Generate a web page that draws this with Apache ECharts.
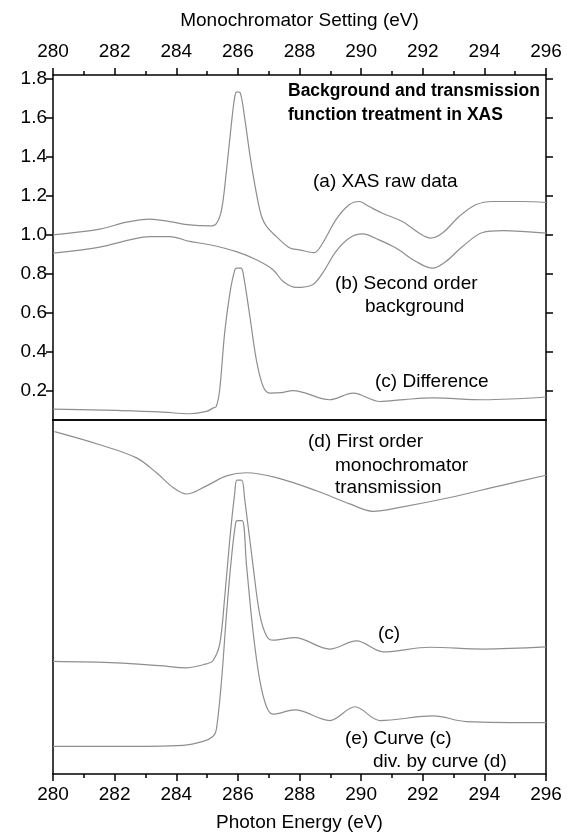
<!DOCTYPE html>
<html>
<head>
<meta charset="utf-8">
<script src="https://cdn.jsdelivr.net/npm/echarts@6/dist/echarts.min.js"></script>
<style>
  html, body { margin: 0; padding: 0; background: #fff; }
  #main { width: 567px; height: 833px; }
</style>
</head>
<body>
<div id="main"></div>
<script>
// 数据
var rawX = [280, 281.52, 282.38, 283.14, 283.79, 284.44, 285.09, 285.3, 285.47, 285.63, 285.79, 285.9, 285.97, 286.08, 286.22, 286.4, 286.6, 286.77, 286.93, 287.25, 287.69, 288.0, 288.47, 288.75, 289.18, 289.61, 289.94, 290.26, 290.69, 291.34, 291.88, 292.26, 292.64, 293.18, 293.72, 294.27, 295.24, 296];
var rawY = [1.00, 1.029, 1.065, 1.081, 1.068, 1.051, 1.046, 1.058, 1.128, 1.33, 1.57, 1.709, 1.733, 1.727, 1.60, 1.40, 1.214, 1.094, 1.043, 0.991, 0.932, 0.923, 0.909, 0.957, 1.077, 1.154, 1.171, 1.145, 1.111, 1.068, 1.009, 0.983, 1.009, 1.094, 1.154, 1.171, 1.171, 1.166];

var bgX = [280, 281.52, 282.49, 283.14, 283.79, 284.44, 285.09, 285.95, 286.6, 287.14, 287.47, 287.9, 288.42, 288.75, 289.18, 289.61, 290.05, 290.58, 291.13, 291.78, 292.32, 292.75, 293.29, 293.94, 294.59, 296];
var bgY = [0.906, 0.937, 0.974, 0.991, 0.991, 0.966, 0.949, 0.914, 0.872, 0.821, 0.761, 0.730, 0.744, 0.804, 0.914, 0.983, 1.005, 0.974, 0.932, 0.863, 0.829, 0.863, 0.940, 1.012, 1.022, 1.009];

var diffX = [280, 282.06, 283.46, 284.44, 284.98, 285.19, 285.3, 285.41, 285.57, 285.74, 285.9, 285.97, 286.1, 286.17, 286.39, 286.6, 286.82, 287.04, 287.4, 287.79, 288.98, 289.74, 290.61, 291.4, 292.34, 293.96, 296];
var diffY = [0.106, 0.099, 0.092, 0.082, 0.094, 0.111, 0.12, 0.205, 0.496, 0.70, 0.82, 0.829, 0.829, 0.804, 0.581, 0.359, 0.222, 0.188, 0.19, 0.201, 0.154, 0.188, 0.145, 0.155, 0.163, 0.154, 0.168];

// 下半部分（任意单位）
var transX = [280.05, 281.52, 282.71, 283.36, 283.9, 284.33, 284.98, 285.63, 286.28, 287.25, 288.55, 289.63, 290.39, 291.26, 292.88, 294.5, 296];
var transY = [96.7, 93.0, 89.3, 85.1, 80.9, 79.1, 81.4, 84.2, 85.1, 83.7, 80.0, 76.3, 74.2, 75.3, 78.1, 81.4, 84.4];

var diff2X = [280, 282.06, 283.46, 284.33, 284.98, 285.19, 285.41, 285.57, 285.74, 285.9, 285.97, 286.12, 286.22, 286.49, 286.71, 286.93, 287.14, 287.85, 288.98, 289.85, 290.72, 292.23, 293.96, 296];
var diff2Y = [31.8, 31.4, 30.6, 30.0, 31.1, 32.0, 36.7, 49.7, 66.5, 79.5, 83.0, 83.0, 77.7, 59.0, 45.1, 39.0, 37.8, 38.5, 35.3, 37.6, 34.5, 35.8, 35.3, 35.9];

var ratioX = [280, 282.06, 284.22, 284.87, 285.19, 285.3, 285.47, 285.63, 285.79, 285.93, 285.99, 286.14, 286.28, 286.49, 286.71, 286.93, 287.14, 287.85, 288.98, 289.8, 290.61, 292.34, 293.42, 296];
var ratioY = [7.8, 7.8, 8.1, 9.2, 10.6, 12.5, 26.5, 45.1, 60.9, 71.1, 71.6, 71.6, 59.0, 40.4, 26.5, 19.0, 16.9, 18.1, 15.1, 19.0, 15.1, 16.4, 14.8, 14.5];

var yTicks = [0.2, 0.4, 0.6, 0.8, 1.0, 1.2, 1.4, 1.6, 1.8];

function zip(xs, ys) {
    return xs.map(function (x, i) { return [x, ys[i]]; });
}

var font = 'Liberation Sans, Arial, Helvetica, sans-serif';
var lineColor = '#8e8e8e';
var axisStyle = { color: '#000', width: 1.5 };

function xAxisBase(grid, pos) {
    return {
        type: 'value', gridIndex: grid, position: pos, min: 280, max: 296, interval: 2,
        axisLine: { show: true, onZero: false, lineStyle: axisStyle },
        axisTick: { show: false },
        axisLabel: { show: false },
        splitLine: { show: false }
    };
}

var xTop = xAxisBase(0, 'top');
xTop.axisTick = { show: true, inside: false, length: 7, lineStyle: axisStyle };
xTop.minorTick = { show: true, splitNumber: 2, length: 4, lineStyle: axisStyle };
xTop.axisLabel = { show: true, fontSize: 19, color: '#000', fontFamily: font, margin: 14 };
xTop.name = 'Monochromator Setting (eV)';
xTop.nameLocation = 'middle';
xTop.nameGap = 45;
xTop.nameTextStyle = { fontSize: 19, color: '#000', fontFamily: font };

var xBottom = xAxisBase(1, 'bottom');
xBottom.axisTick = { show: true, inside: false, length: 7, lineStyle: axisStyle };
xBottom.minorTick = { show: true, splitNumber: 2, length: 4, lineStyle: axisStyle };
xBottom.axisLabel = { show: true, fontSize: 19, color: '#000', fontFamily: font, margin: 11 };
xBottom.name = 'Photon Energy (eV)';
xBottom.nameLocation = 'middle';
xBottom.nameGap = 39;
xBottom.nameTextStyle = { fontSize: 19, color: '#000', fontFamily: font };

function txt(left, y, s, bold) {
    return {
        type: 'text', left: left, top: y - 11,
        style: { text: s, fontSize: bold ? 17.5 : 19, fontWeight: bold ? 'bold' : 'normal', fontFamily: font, fill: '#000' }
    };
}

var myChart = echarts.init(document.getElementById('main'));
var option = {
    backgroundColor: '#fff',
    animation: false,
    grid: [
        { left: 53, right: 21, top: 75, height: 345 },
        { left: 53, right: 21, top: 420, height: 358 }
    ],
    xAxis: [xTop, xAxisBase(0, 'bottom'), xBottom, xAxisBase(1, 'top')],
    yAxis: [
        {
            type: 'value', gridIndex: 0, position: 'left', min: 0.05, max: 1.82,
            axisLine: { show: true, lineStyle: axisStyle },
            axisTick: { show: true, inside: false, length: 7, customValues: yTicks, lineStyle: axisStyle },
            axisLabel: {
                show: true, customValues: yTicks, fontSize: 19, color: '#000', fontFamily: font, margin: 6,
                formatter: function (v) { return v.toFixed(1); }
            },
            splitLine: { show: false }
        },
        {
            type: 'value', gridIndex: 0, position: 'right', min: 0.05, max: 1.82,
            axisLine: { show: true, lineStyle: axisStyle },
            axisTick: { show: true, inside: false, length: 7, customValues: yTicks, lineStyle: axisStyle },
            axisLabel: { show: false },
            splitLine: { show: false }
        },
        {
            type: 'value', gridIndex: 1, position: 'left', min: 0, max: 100,
            axisLine: { show: true, lineStyle: axisStyle },
            axisTick: { show: false }, axisLabel: { show: false }, splitLine: { show: false }
        },
        {
            type: 'value', gridIndex: 1, position: 'right', min: 0, max: 100,
            axisLine: { show: true, lineStyle: axisStyle },
            axisTick: { show: false }, axisLabel: { show: false }, splitLine: { show: false }
        }
    ],
    series: [
        { name: '(a)', data: zip(rawX, rawY), xAxisIndex: 0, yAxisIndex: 0 },
        { name: '(b)', data: zip(bgX, bgY), xAxisIndex: 0, yAxisIndex: 0 },
        { name: '(c)', data: zip(diffX, diffY), xAxisIndex: 0, yAxisIndex: 0 },
        { name: '(d)', data: zip(transX, transY), xAxisIndex: 2, yAxisIndex: 2 },
        { name: '(c2)', data: zip(diff2X, diff2Y), xAxisIndex: 2, yAxisIndex: 2 },
        { name: '(e)', data: zip(ratioX, ratioY), xAxisIndex: 2, yAxisIndex: 2 }
    ].map(function (s) {
        s.type = 'line';
        s.smooth = 0.35;
        s.symbol = 'none';
        s.lineStyle = { color: lineColor, width: 1.2 };
        return s;
    }),
    graphic: [
        txt(288, 93, 'Background and transmission', true),
        txt(288, 117, 'function treatment in XAS', true),
        txt(313, 183, '(a) XAS raw data'),
        txt(335, 285, '(b) Second order'),
        txt(365, 308, 'background'),
        txt(375, 383, '(c) Difference'),
        txt(308, 443, '(d) First order'),
        txt(335, 467, 'monochromator'),
        txt(335, 489, 'transmission'),
        txt(378, 635, '(c)'),
        txt(345, 740, '(e) Curve (c)'),
        txt(373, 763, 'div. by curve (d)')
    ]
};
myChart.setOption(option);
</script>
</body>
</html>
